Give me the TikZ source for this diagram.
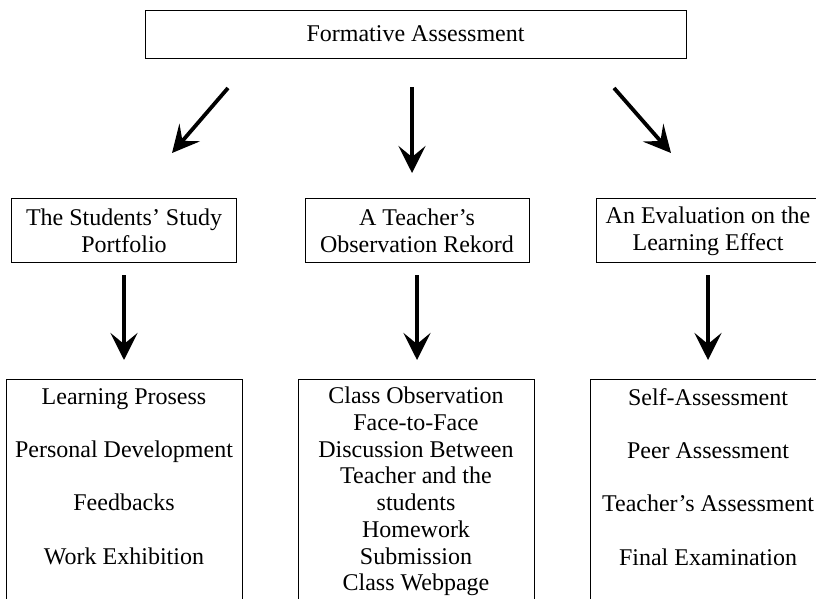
\documentclass[tikz,border=0pt]{standalone}
\usepackage{fontspec}
\setmainfont{Liberation Serif}
\usetikzlibrary{arrows.meta}
\begin{document}
\begin{tikzpicture}[x=1pt,y=-1pt,
  box/.style={draw,line width=0.9pt,inner sep=0pt},
  lbl/.style={align=center,font=\fontsize{24}{26.7}\selectfont,inner sep=0pt},
  bigarrow/.style={line width=3.8pt,-{Stealth[length=27pt,width=27pt,inset=11pt]}}]
\useasboundingbox (0,0) rectangle (816,598);
\clip (0,0) rectangle (816,598);
\fill[white] (0,0) rectangle (816,598);
% top
\node[box,minimum width=541pt,minimum height=48pt] (top) at (415.5,34) {};
\node[lbl] (toptxt) at (415.5,34) {Formative Assessment};
% middle row
\node[box,minimum width=225pt,minimum height=64pt] (m1) at (124,230) {};
\node[lbl] (m1t) at (124,231) {The Students' Study\\Portfolio};
\node[box,minimum width=224pt,minimum height=64pt] (m2) at (417,230) {};
\node[lbl] (m2t) at (417,231) {A Teacher's\\Observation Rekord};
\node[box,minimum width=224pt,minimum height=64pt] (m3) at (708,230) {};
\node[lbl] (m3t) at (708,231) {An Evaluation on the\\Learning Effect};
% bottom row
\node[box,minimum width=236pt,minimum height=240pt] (b1) at (124,499) {};
\node[box,minimum width=236pt,minimum height=240pt] (b2) at (416,499) {};
\node[box,minimum width=236pt,minimum height=240pt] (b3) at (708,499) {};
\node[lbl,anchor=north] (b1t) at (124,388) {Learning Prosess\\[26.7pt]Personal Development\\[26.7pt]Feedbacks\\[26.7pt]Work Exhibition};
\node[lbl,anchor=north] (b2t) at (416,387) {Class Observation\\Face-to-Face\\Discussion Between\\Teacher and the\\students\\Homework\\Submission\\Class Webpage};
\node[lbl,anchor=north] (b3t) at (708,388) {Self-Assessment\\[26.7pt]Peer Assessment\\[26.7pt]Teacher's Assessment\\[26.7pt]Final Examination};
% arrow coordinates
\coordinate (a1s) at (228,88);
\coordinate (a1e) at (172,153);
\coordinate (a2s) at (412,87);
\coordinate (a2e) at (412,173);
\coordinate (a3s) at (614,88);
\coordinate (a3e) at (671,153);
\coordinate (v1s) at (124,275);
\coordinate (v1e) at (124,360);
\coordinate (v2s) at (417,275);
\coordinate (v2e) at (417,360);
\coordinate (v3s) at (708,275);
\coordinate (v3e) at (708,360);
\draw[bigarrow] (a1s) -- (a1e);
\draw[bigarrow] (a2s) -- (a2e);
\draw[bigarrow] (a3s) -- (a3e);
\draw[bigarrow] (v1s) -- (v1e);
\draw[bigarrow] (v2s) -- (v2e);
\draw[bigarrow] (v3s) -- (v3e);
\end{tikzpicture}
\end{document}
